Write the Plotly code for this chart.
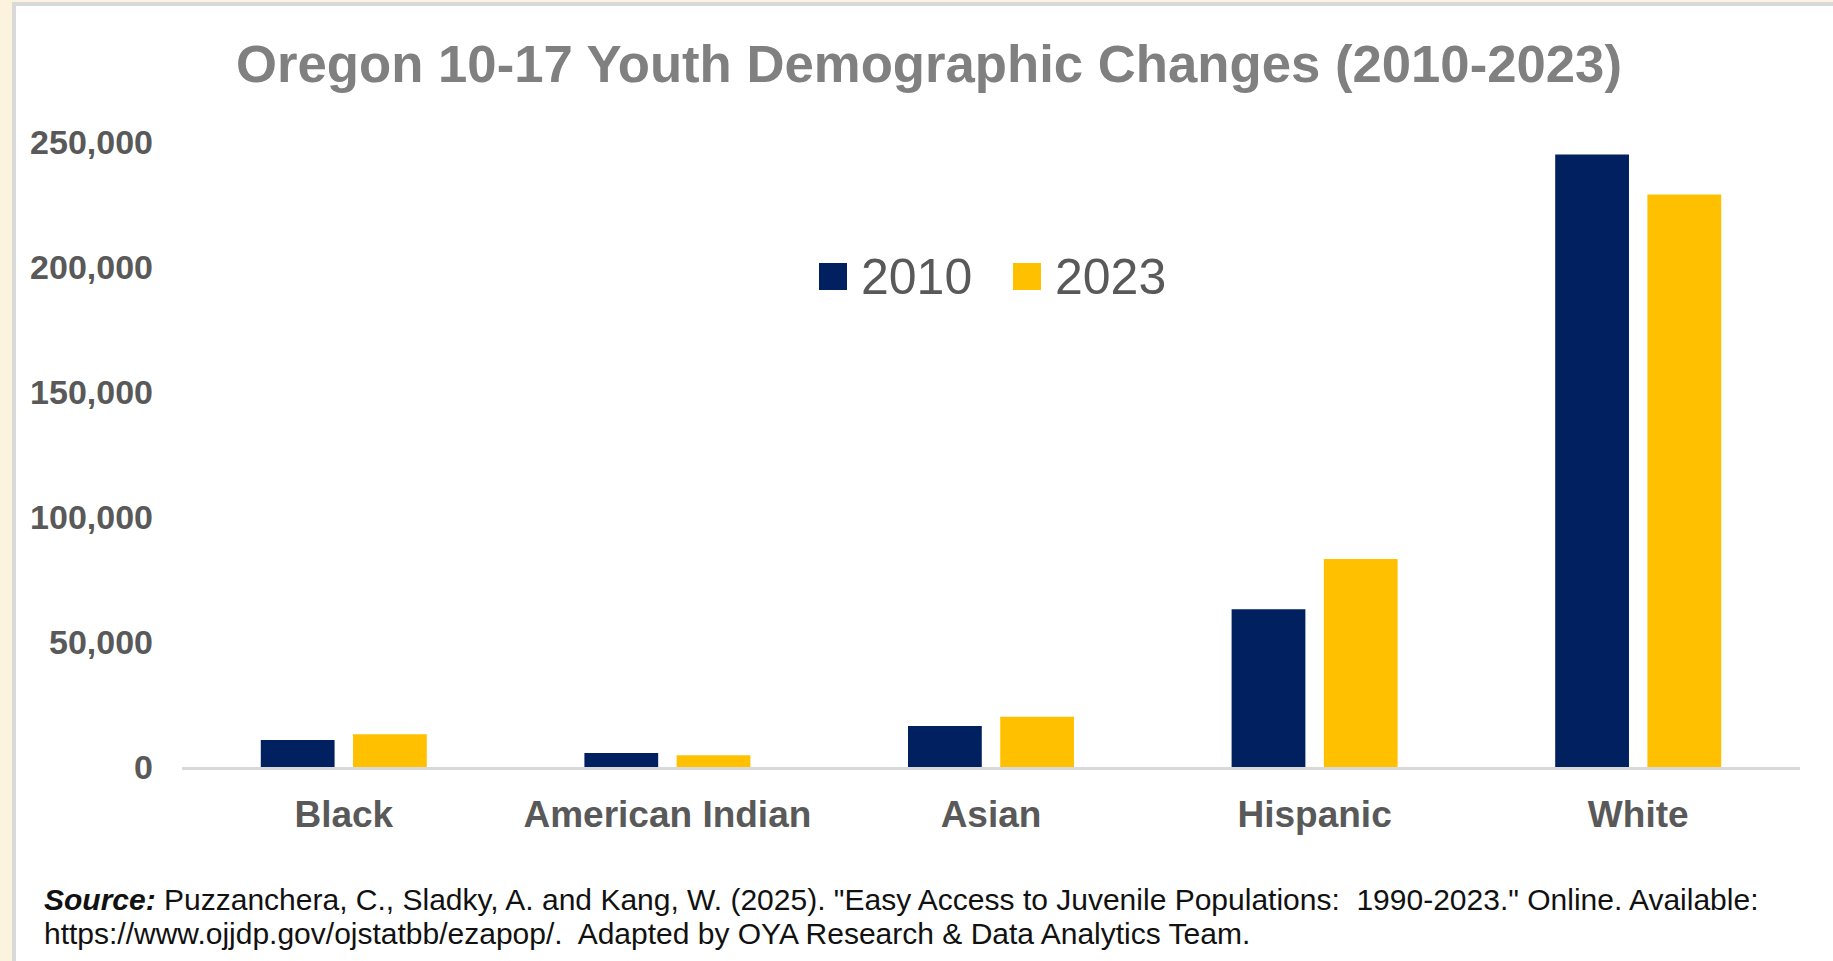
import plotly.graph_objects as go

categories = ["Black", "American Indian", "Asian", "Hispanic", "White"]
series_names = ["2010", "2023"]
values_2010 = [10800, 5600, 16400, 63100, 245000]
values_2023 = [13100, 4700, 20100, 83200, 229000]
series_colors = ["#002060", "#FFC000"]
y_ticks = [0, 50000, 100000, 150000, 200000, 250000]

title_text = "Oregon 10-17 Youth Demographic Changes (2010-2023)"
source_line1 = ('<b><i>Source:</i></b> Puzzanchera, C., Sladky, A. and Kang, W. (2025). '
                '"Easy Access to Juvenile Populations:\u00a0 1990-2023." Online. Available:')
source_line2 = 'https://www.ojjdp.gov/ojstatbb/ezapop/.\u00a0 Adapted by OYA Research &amp; Data Analytics Team.'

W, H = 1833, 961
L, R, T, B = 182, 33, 142, 194
pw, ph = W - L - R, H - T - B

def px_x(x):
    return (x - L) / pw

def px_y(y):
    return (H - B - y) / ph

FONT = "Liberation Sans, Arial, sans-serif"

fig = go.Figure()
for name, vals, col in zip(series_names, [values_2010, values_2023], series_colors):
    fig.add_trace(go.Bar(x=categories, y=vals, name=name, marker_color=col,
                         marker_line_width=0, showlegend=False))

shapes = [
    dict(type="rect", xref="paper", yref="paper", layer="below",
         x0=px_x(14), x1=px_x(W + 20), y0=px_y(4), y1=px_y(H + 20),
         fillcolor="white", line=dict(color="#D9D9D9", width=4)),
]
annotations = [
    dict(xref="paper", yref="paper", x=px_x(42), y=px_y(899), xanchor="left", yanchor="middle",
         text=source_line1, showarrow=False, font=dict(family=FONT, size=30, color="#111111")),
    dict(xref="paper", yref="paper", x=px_x(42), y=px_y(933), xanchor="left", yanchor="middle",
         text=source_line2, showarrow=False, font=dict(family=FONT, size=30, color="#111111")),
]
# legend drawn manually (large squares)
leg_x = [819, 1013]
for name, col, lx in zip(series_names, series_colors, leg_x):
    shapes.append(dict(type="rect", xref="paper", yref="paper",
                       x0=px_x(lx), x1=px_x(lx + 28), y0=px_y(290), y1=px_y(263),
                       fillcolor=col, line=dict(width=0)))
    annotations.append(dict(xref="paper", yref="paper", x=px_x(lx + 40), y=px_y(277),
                            xanchor="left", yanchor="middle", text=name, showarrow=False,
                            font=dict(family=FONT, size=50, color="#595959")))

fig.update_layout(
    width=W, height=H,
    margin=dict(l=L, r=R, t=T, b=B),
    paper_bgcolor="#FCF3DE",
    plot_bgcolor="rgba(0,0,0,0)",
    title=dict(text=title_text, xref="container", yref="container",
               x=929 / W, y=1 - 64 / H, xanchor="center", yanchor="middle",
               font=dict(family=FONT, size=52.7, color="#808080", weight="bold")),
    barmode="group", bargap=0.43, bargroupgap=0.2,
    showlegend=False,
    shapes=shapes, annotations=annotations,
    xaxis=dict(showline=True, linecolor="#D9D9D9", linewidth=3, showgrid=False,
               ticks="", ticklabelstandoff=13,
               tickfont=dict(family=FONT, size=37, color="#595959", weight="bold")),
    yaxis=dict(range=[0, 250000], tickvals=y_ticks, tickformat=",", showgrid=False,
               zeroline=False, showline=False, ticks="", ticklabelstandoff=28,
               tickfont=dict(family=FONT, size=34, color="#595959", weight="bold")),
)

fig.write_html(
    "out.html",
    config={"displayModeBar": False},
    post_script="document.body.style.margin='0';document.body.style.padding='0';"
                "document.body.style.overflow='hidden';",
)
